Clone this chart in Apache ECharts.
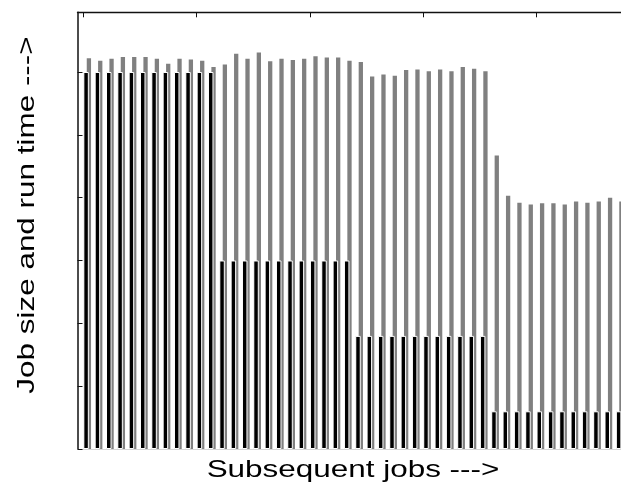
<!DOCTYPE html>
<html><head><meta charset="utf-8">
<script src="https://cdn.jsdelivr.net/npm/echarts@6/dist/echarts.min.js"></script>
<style>html,body{margin:0;padding:0;background:#fff}#c{width:621px;height:484px}</style>
</head><body><div id="c"></div>
<script>
// job numbers 1..48
const jobs = [1,2,3,4,5,6,7,8,9,10,11,12,13,14,15,16,17,18,19,20,21,22,23,24,
              25,26,27,28,29,30,31,32,33,34,35,36,37,38,39,40,41,42,43,44,45,46,47,48];
// job size (black bars), in tick units
const jobSize = [6,6,6,6,6,6,6,6,6,6,6,6,
                 3,3,3,3,3,3,3,3,3,3,3,3,
                 1.8,1.8,1.8,1.8,1.8,1.8,1.8,1.8,1.8,1.8,1.8,1.8,
                 0.6,0.6,0.6,0.6,0.6,0.6,0.6,0.6,0.6,0.6,0.6,0.6];
// run time (grey bars)
const runTime1 = [6.22,6.18,6.21,6.24,6.24,6.24,6.21,6.13,6.21,6.20,6.18,6.08];
const runTime2 = [6.12,6.29,6.21,6.31,6.17,6.21,6.19,6.21,6.25,6.23,6.23,6.18];
const runTime3 = [6.16,5.93,5.96,5.94,6.03,6.04,6.01,6.04,6.01,6.08,6.05,6.01];
const runTime4 = [4.67,4.03,3.92,3.89,3.91,3.91,3.89,3.94,3.92,3.94,4.00,3.94];
const runTime = runTime1.concat(runTime2, runTime3, runTime4);
const yTicks = [0,1,2,3,4,5,6];
const topTicks = [0,10,20,30,40];

const chart = echarts.init(document.getElementById('c'), null, {renderer:'canvas'});
const gridLeft = 77.5, gridTop = 12.3, gridW = 563, gridH = 436.7;
const pitch = 11.33;
const span = gridW / pitch;
const jobMin = 0.144, tickMin = -0.494;
const yMax = 6.95;

chart.setOption({
  animation: false,
  backgroundColor: '#fff',
  grid: {left: gridLeft, top: gridTop, width: gridW, height: gridH, containLabel: false, outerBoundsMode: 'none'},
  xAxis: [
    {type:'value', position:'bottom', min: jobMin, max: jobMin + span,
     axisLine:{show:true, onZero:false, lineStyle:{color:'#d6d6d6', width:1}},
     axisTick:{show:false}, axisLabel:{show:false}, splitLine:{show:false}},
    {type:'value', position:'top', min: tickMin, max: tickMin + span,
     axisLine:{show:true, onZero:false, lineStyle:{color:'#111', width:1.4}},
     axisTick:{show:false}, axisLabel:{show:false}, splitLine:{show:false}}
  ],
  yAxis: {type:'value', min:0, max:yMax,
     axisLine:{show:true, onZero:false, lineStyle:{color:'#111', width:1.5}},
     axisTick:{show:true, inside:true, length:5, customValues: yTicks, lineStyle:{color:'#111', width:1}},
     axisLabel:{show:false}, splitLine:{show:false}},
  series: [
    {type:'bar', name:'Job size', xAxisIndex:0, z:3, barWidth:5.5, barGap:'-38%',
     data: jobs.map((j,i)=>[j, jobSize[i]]),
     itemStyle:{color:'#000', borderColor:'#fff', borderWidth:1}},
    {type:'bar', name:'Run time', xAxisIndex:0, z:2, barWidth:4.3, barGap:'-38%',
     data: jobs.map((j,i)=>[j, runTime[i]]),
     itemStyle:{color:'#808080'}},
    {type:'custom', name:'top ticks', xAxisIndex:1, z:5, silent:true,
     data: topTicks.map(t=>[t, yMax]),
     renderItem: function(params, api){
       const p = api.coord([api.value(0), api.value(1)]);
       const x = Math.round(p[0]) + 0.5;
       return {type:'line', shape:{x1:x, y1:p[1], x2:x, y2:p[1]+5},
               style:{stroke:'#111', lineWidth:1}};
     }}
  ],
  graphic: [
    {type:'text', x:27, y:215, rotation: Math.PI/2, scaleX:1.31,
     style:{text:'Job size and run time --->', font:'24px "Liberation Sans"', fill:'#000', align:'center', verticalAlign:'middle'}},
    {type:'text', x:353, y:470, scaleX:1.31,
     style:{text:'Subsequent jobs --->', font:'24px "Liberation Sans"', fill:'#000', align:'center', verticalAlign:'middle'}}
  ]
});
</script></body></html>
